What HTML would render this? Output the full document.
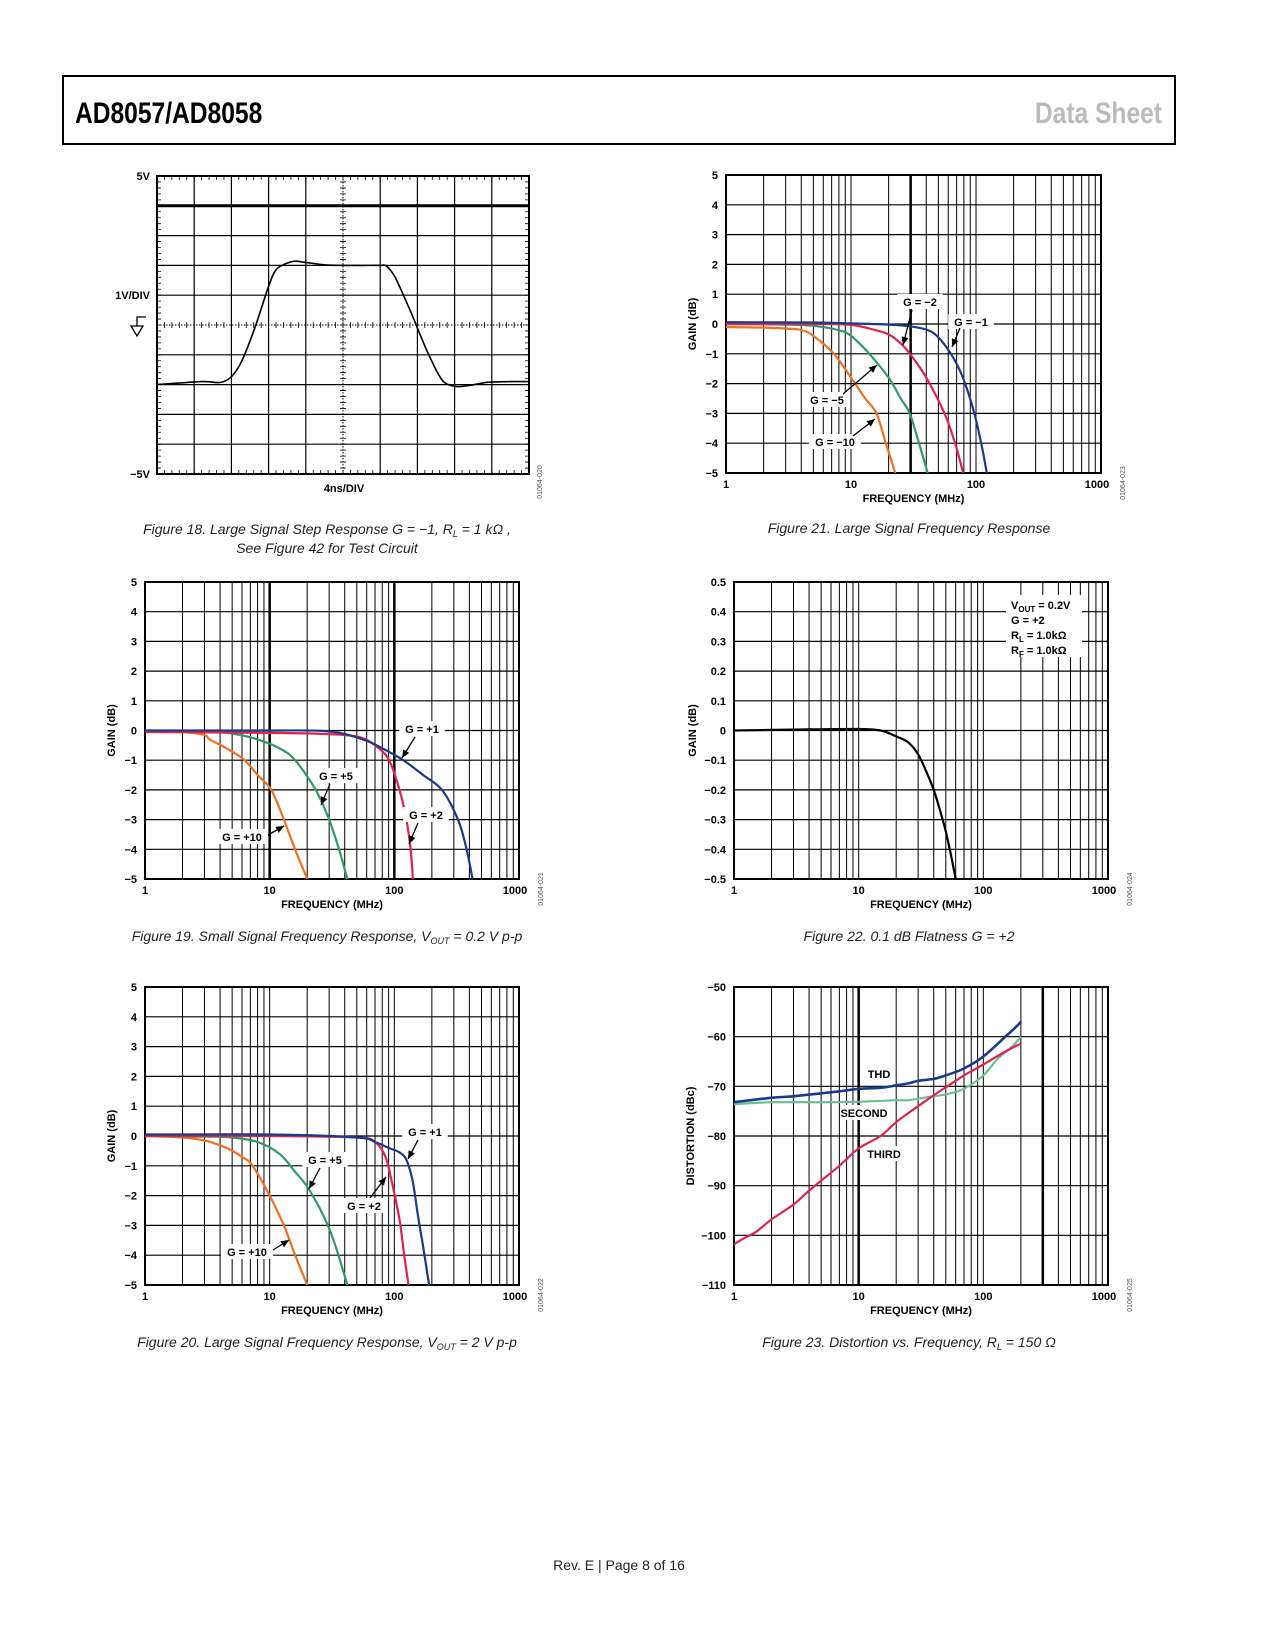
<!DOCTYPE html>
<html><head><meta charset="utf-8"><style>
html,body{margin:0;padding:0;background:#fff;}
svg{display:block;font-family:"Liberation Sans",sans-serif;}
.tk{font-size:11px;font-weight:bold;fill:#000;}
.cap{font-size:14px;font-style:italic;fill:#222;}
</style></head><body>
<svg id="page" width="1275" height="1650" viewBox="0 0 1275 1650">
<rect x="63" y="76" width="1112" height="68" fill="none" stroke="#000" stroke-width="2"/>
<text x="75" y="123" font-size="30" font-weight="bold" transform="translate(75 0) scale(0.82 1) translate(-75 0)">AD8057/AD8058</text>
<text x="1162" y="123" font-size="30" font-weight="bold" fill="#bbb" text-anchor="end" transform="translate(1162 0) scale(0.82 1) translate(-1162 0)">Data Sheet</text>
<text x="619" y="1570" font-size="14" text-anchor="middle" fill="#222">Rev. E | Page 8 of 16</text>
<g id="charts"></g>
</svg>
<script>
// ---------- Figure 18 step response (divisions: x 0..10, volts -5..5)
const stepT = [0,1.2,1.79,2.2,2.6,3.0,3.2,3.45,3.7,4.0,4.5,5.0,5.5,6.0,6.16,6.4,6.8,7.2,7.5,7.7,7.9,8.08,8.4,8.9,9.5,10];
const stepV = [-2.0,-1.9,-1.9,-1.4,-0.2,1.3,1.85,2.05,2.14,2.1,2.02,2.0,2.0,2.0,1.98,1.6,0.5,-0.7,-1.5,-1.9,-2.03,-2.07,-2.03,-1.92,-1.9,-1.9];
// ---------- Figure 21 large signal, inverting
const f21Names = ["G = -1","G = -2","G = -5","G = -10"];
const f21Freq = [
 [1,5,10,20,30,41,50,63,75,85,97,110,122],
 [1,5,10,15.5,20,25,29.6,40,56,68,79],
 [1,3,5,7.9,10,14,20,25,29.5,35,41],
 [1,2,3,4,5,7.3,10,13,16,19,22.6]];
const f21Gain = [
 [0.06,0.05,0.02,-0.02,-0.08,-0.2,-0.45,-1.0,-1.6,-2.2,-3.0,-4.0,-5.0],
 [0.0,0.0,-0.03,-0.2,-0.35,-0.65,-1.0,-1.8,-3.0,-4.0,-5.0],
 [0.0,-0.02,-0.06,-0.2,-0.4,-1.0,-1.8,-2.5,-3.0,-4.0,-5.0],
 [-0.1,-0.12,-0.15,-0.2,-0.4,-1.0,-1.8,-2.5,-3.0,-4.0,-5.0]];
// ---------- Figure 19 small signal
const f19Freq = [
 [1,10,30,56,80,118,170,241,324,380,424],
 [1,10,30,50,62,75,91,110,125,135,141],
 [1,3,5,8,12,16,23.4,30,36,42],
 [1,2,3,3.3,4.5,6.3,8,10.3,13,16,20]];
const f19Gain = [
 [0,0,-0.03,-0.3,-0.6,-1.0,-1.5,-2.0,-3.0,-4.0,-5.0],
 [-0.05,-0.08,-0.12,-0.2,-0.35,-0.6,-1.0,-2.0,-3.0,-4.0,-5.0],
 [0,-0.03,-0.1,-0.3,-0.6,-1.0,-2.0,-3.0,-4.0,-5.0],
 [0,-0.05,-0.15,-0.3,-0.6,-1.0,-1.5,-2.0,-3.0,-4.0,-5.0]];
// ---------- Figure 22 flatness
const f22Freq = [1,3,5,10,15,20,25,30,35,40,45,50,55,60];
const f22Gain = [0.0,0.003,0.004,0.005,0.0,-0.02,-0.04,-0.08,-0.14,-0.2,-0.27,-0.34,-0.42,-0.5];
// ---------- Figure 20 large signal, non-inverting
const f20Freq = [
 [1,10,50,70,90,110,125,140,155,170,190],
 [1,10,50,70,85,95,110,120,130],
 [1,3,5,8,12,16,20,25,30,35,42],
 [1,2,3,4.5,6,7.3,10,13,16,20]];
const f20Gain = [
 [0.05,0.05,-0.05,-0.2,-0.4,-0.55,-0.8,-1.5,-2.7,-3.7,-5.0],
 [0,0,-0.05,-0.2,-0.7,-1.5,-2.8,-4.0,-5.0],
 [0,-0.02,-0.05,-0.2,-0.6,-1.2,-1.7,-2.4,-3.1,-3.9,-5.0],
 [0,-0.05,-0.15,-0.4,-0.7,-1.0,-2.0,-3.0,-4.0,-5.0]];
// ---------- Figure 23 distortion
const thdFreq = [1,2,3,5,7,10,15,20,25,30,40,50,70,100,150,180,200];
const thdVal = [-73.2,-72.3,-72,-71.4,-71,-70.5,-70.3,-69.8,-69.4,-68.9,-68.5,-67.8,-66.4,-64,-60,-58.2,-57];
const secFreq = [1,2,5,10,20,25,35,50,70,100,130,170,200];
const secVal = [-73.6,-73.2,-73.2,-73.1,-72.8,-72.8,-72.2,-71.6,-70.5,-67.8,-64.5,-62,-60];
const thirdFreq = [1,1.2,1.5,2,3,4,5,7,10,15,20,30,40,50,70,100,150,200];
const thirdVal = [-101.8,-100.6,-99.3,-96.8,-93.8,-91,-89,-86,-82.5,-80,-77.2,-74,-71.8,-70.2,-67.8,-65.6,-63,-61.4];

const NS="http://www.w3.org/2000/svg";
const root=document.getElementById('charts');
function mk(tag,attrs,parent,txt){const e=document.createElementNS(NS,tag);for(const k in attrs)e.setAttribute(k,attrs[k]);if(txt!==undefined)e.textContent=txt;(parent||root).appendChild(e);return e;}
function fmt(v){return v<0?'\u2212'+String(-v):String(v);}
function smooth(pts){
  let d='M'+pts[0][0].toFixed(1)+' '+pts[0][1].toFixed(1);
  for(let i=0;i<pts.length-1;i++){
    const p0=pts[Math.max(0,i-1)],p1=pts[i],p2=pts[i+1],p3=pts[Math.min(pts.length-1,i+2)];
    const c1x=p1[0]+(p2[0]-p0[0])/6,c1y=p1[1]+(p2[1]-p0[1])/6;
    const c2x=p2[0]-(p3[0]-p1[0])/6,c2y=p2[1]-(p3[1]-p1[1])/6;
    d+=` C${c1x.toFixed(1)} ${c1y.toFixed(1)} ${c2x.toFixed(1)} ${c2y.toFixed(1)} ${p2[0].toFixed(1)} ${p2[1].toFixed(1)}`;
  }
  return d;
}

function logChart(c){
  const g=mk('g',{});
  
  
  c.xs=f=>c.x0+Math.log10(f)/3*(c.x1-c.x0);
  c.ys=v=>c.y0+(c.ymax-v)/(c.ymax-c.ymin)*(c.y1-c.y0);
  for(let d=0;d<3;d++)for(let m=1;m<=9;m++){const f=Math.pow(10,d)*m;const x=c.xs(f);const thick=(c.thick||[]).includes(f);
    const l=mk('line',{x1:x,x2:x,y1:c.y0,y2:c.y1,stroke:'#000','stroke-width':thick?2.5:1},g);
    
    }
  for(let i=0;i<c.yt.length;i++){const y=c.ys(c.yt[i]);
    const l=mk('line',{x1:c.x0,x2:c.x1,y1:y,y2:y,stroke:'#000','stroke-width':1.2},g);
    
    
    const t=mk('text',{x:c.x0-8,y:y+4,'text-anchor':'end',class:'tk'},g,c.ylab[i]);
    
    }
  const fr=mk('rect',{x:c.x0,y:c.y0,width:c.x1-c.x0,height:c.y1-c.y0,fill:'none',stroke:'#000','stroke-width':2},g);
  
  
  const xl=['1','10','100','1000'];
  for(let i=0;i<4;i++){const t=mk('text',{x:c.xs(Math.pow(10,i))+(i==3?-4:0),y:c.y1+15,'text-anchor':'middle',class:'tk'},g,xl[i]);
    
    }
  const xt=mk('text',{x:(c.x0+c.x1)/2,y:c.y1+29,'text-anchor':'middle',class:'tk','font-size':'12'},g,'FREQUENCY (MHz)');
  
  
  const cy=(c.y0+c.y1)/2, cx=c.x0-c.ytitleOff;
  const yt=mk('text',{x:cx,y:cy,'text-anchor':'middle',class:'tk','font-size':'12',transform:`rotate(-90 ${cx} ${cy})`},g,c.ytitle);
  
  
  const idx=c.x1+24, idy=c.y1+10;
  const id=mk('text',{x:idx,y:idy,'font-size':'7',fill:'#555','text-anchor':'middle',transform:`rotate(-90 ${idx} ${idy})`},g,c.id);
  
  
  const cap=mk('text',{x:c.capx,y:c.capy,'text-anchor':'middle',class:'cap'},root);
  cap.innerHTML=c.cap;
  
  
  return g;
}
function series(c,g,fs,vs,color,name,w){
  const clip=v=>Math.max(c.ymin,Math.min(c.ymax,v));
  const pts=fs.map((f,i)=>[c.xs(f),c.ys(clip(vs[i]))]);
  const p=mk('path',{d:smooth(pts),fill:'none',stroke:color,'stroke-width':w||2.2,'stroke-linejoin':'round'},g);
  
  
}
function label(g,x,y,txt){
  const w=txt.length*6.6+6;
  const r=mk('rect',{x:x-w/2,y:y-8,width:w,height:15,fill:'#fff'},g);
  
  
  const t=mk('text',{x:x,y:y+4,'text-anchor':'middle',class:'tk'},g,txt.replace('-','\u2212'));
  
  
}
function arrow(g,x1,y1,x2,y2){
  const l=mk('line',{x1:x1,y1:y1,x2:x2,y2:y2,stroke:'#000','stroke-width':1.3},g);
  
  
  const a=Math.atan2(y2-y1,x2-x1),L=8,W=3.5;
  const bx=x2-L*Math.cos(a),by=y2-L*Math.sin(a);
  const p=mk('polygon',{points:`${x2},${y2} ${bx-W*Math.sin(a)},${by+W*Math.cos(a)} ${bx+W*Math.sin(a)},${by-W*Math.cos(a)}`,fill:'#000'},g);
  
  
}
const colors=['#1a3a8a','#e0234e','#2e9a6a','#f07020'];
const gainTicks=[5,4,3,2,1,0,-1,-2,-3,-4,-5];
const gainLabs=gainTicks.map(fmt);

// ===== Figure 18 =====
(function(){
  const x0=157,x1=529,y0=176,y1=474;
  const g=mk('g',{});
  
  
  const tx=t=>x0+t/10*(x1-x0), vy=v=>y0+(5-v)/10*(y1-y0);
  for(let i=1;i<10;i++){const x=tx(i),y=y0+i*(y1-y0)/10;
    const a=mk('line',{x1:x,x2:x,y1:y0,y2:y1,stroke:'#000','stroke-width':i==5?1:1.2,'stroke-dasharray':i==5?'1.5 1.5':'none'},g);
    
    
    const b=mk('line',{x1:x0,x2:x1,y1:y,y2:y,stroke:'#000','stroke-width':i==1?3:(i==5?1:1.2),'stroke-dasharray':i==5?'1.5 1.5':'none'},g);
    
    }
  let ticks='';
  for(let i=0;i<=50;i++){const x=x0+i*(x1-x0)/50,y=y0+i*(y1-y0)/50;
    ticks+=`M${x} ${y0}v4M${x} ${y1}v-4M${x} ${(y0+y1)/2-3}v6M${x0} ${y}h4M${x1} ${y}h-4M${(x0+x1)/2-3} ${y}h6`;}
  const tp=mk('path',{d:ticks,stroke:'#000','stroke-width':0.8},g);
  
  
  const fr=mk('rect',{x:x0,y:y0,width:x1-x0,height:y1-y0,fill:'none',stroke:'#000','stroke-width':2},g);
  
  
  const pts=stepT.map((t,i)=>[tx(t),vy(stepV[i])]);
  const p=mk('path',{d:smooth(pts),fill:'none',stroke:'#000','stroke-width':1.6,'stroke-linejoin':'round'},g);
  
  
  const labs=[['5V',y0+4,'top-voltage-label'],['1V/DIV',299,'scale-label'],['\u22125V',y1+4,'bottom-voltage-label']];
  for(const L of labs){const t=mk('text',{x:x0-7,y:L[1],'text-anchor':'end',class:'tk'},g,L[0]);
    
    }
  const gs=mk('path',{d:'M146 317h-9v9M131 326h12l-6 10z',fill:'none',stroke:'#000','stroke-width':1.3},g);
  
  
  const xt=mk('text',{x:344,y:492,'text-anchor':'middle',class:'tk'},g,'4ns/DIV');
  
  
  const id=mk('text',{x:542,y:482,'font-size':'7',fill:'#555','text-anchor':'middle',transform:'rotate(-90 542 482)'},g,'01064-020');
  
  
  const c1=mk('text',{x:327,y:534,'text-anchor':'middle',class:'cap'},root);
  c1.innerHTML='Figure 18. Large Signal Step Response G = \u22121, R<tspan font-size="9" dy="3">L</tspan><tspan dy="-3"> = 1 k\u03a9 ,</tspan>';
  
  
  const c2=mk('text',{x:327,y:553,'text-anchor':'middle',class:'cap'},root,'See Figure 42 for Test Circuit');
  
  
})();

// ===== Figure 21 =====
(function(){
  const c={name:'large-signal-inverting-chart',x0:726,x1:1101,y0:175,y1:473,ymin:-5,ymax:5,yt:gainTicks,ylab:gainLabs,ytitle:'GAIN (dB)',ytitleOff:30,id:'01064-023',thick:[30],capx:909,capy:533,cap:'Figure 21. Large Signal Frequency Response'};
  const g=logChart(c);
  for(let i=3;i>=0;i--)series(c,g,f21Freq[i],f21Gain[i],colors[i],'curve-'+f21Names[i].replace(/[^0-9]/g,'')+'-inverting');
  label(g,920,302,'G = -2');arrow(g,912,310,903,345);
  label(g,971,322,'G = -1');arrow(g,960,328,952,347);
  label(g,827,400,'G = -5');arrow(g,843,394,877,365);
  label(g,835,442,'G = -10');arrow(g,853,436,875,419);
})();

// ===== Figure 19 =====
(function(){
  const c={name:'small-signal-chart',x0:145,x1:519,y0:582,y1:879,ymin:-5,ymax:5,yt:gainTicks,ylab:gainLabs,ytitle:'GAIN (dB)',ytitleOff:30,id:'01064-021',thick:[10,100],capx:327,capy:941,cap:'Figure 19. Small Signal Frequency Response, V<tspan font-size="9" dy="3">OUT</tspan><tspan dy="-3"> = 0.2 V p-p</tspan>'};
  const g=logChart(c);
  const nm=['g1','g2','g5','g10'];
  for(let i=3;i>=0;i--)series(c,g,f19Freq[i],f19Gain[i],colors[i],'curve-'+nm[i]);
  label(g,422,729,'G = +1');arrow(g,415,737,402,758);
  label(g,336,776,'G = +5');arrow(g,330,784,321,805);
  label(g,426,815,'G = +2');arrow(g,418,823,409,844);
  label(g,242,837,'G = +10');arrow(g,268,835,284,826);
})();

// ===== Figure 22 =====
(function(){
  const yt=[0.5,0.4,0.3,0.2,0.1,0,-0.1,-0.2,-0.3,-0.4,-0.5];
  const c={name:'flatness-chart',x0:734,x1:1108,y0:582,y1:879,ymin:-0.5,ymax:0.5,yt:yt,ylab:yt.map(fmt),ytitle:'GAIN (dB)',ytitleOff:38,id:'01064-024',capx:909,capy:941,cap:'Figure 22. 0.1 dB Flatness G = +2'};
  const g=logChart(c);
  series(c,g,f22Freq,f22Gain,'#000','flatness-curve');
  const r=mk('rect',{x:1006,y:595,width:76,height:62,fill:'#fff'},g);
  
  
  const L=[['V','OUT',' = 0.2V',609],['G = +2','','',624],['R','L',' = 1.0k\u03a9',639],['R','F',' = 1.0k\u03a9',654]];
  for(const l of L){const t=mk('text',{x:1011,y:l[3],class:'tk'},g);
    t.innerHTML=l[0]+(l[1]?`<tspan font-size="8" dy="3">${l[1]}</tspan><tspan dy="-3">${l[2]}</tspan>`:'');
    
    }
})();

// ===== Figure 20 =====
(function(){
  const c={name:'large-signal-noninverting-chart',x0:145,x1:519,y0:987,y1:1285,ymin:-5,ymax:5,yt:gainTicks,ylab:gainLabs,ytitle:'GAIN (dB)',ytitleOff:30,id:'01064-022',capx:327,capy:1347,cap:'Figure 20. Large Signal Frequency Response, V<tspan font-size="9" dy="3">OUT</tspan><tspan dy="-3"> = 2 V p-p</tspan>'};
  const g=logChart(c);
  const nm=['g1','g2','g5','g10'];
  for(let i=3;i>=0;i--)series(c,g,f20Freq[i],f20Gain[i],colors[i],'curve-'+nm[i]);
  label(g,425,1132,'G = +1');arrow(g,418,1140,408,1159);
  label(g,325,1160,'G = +5');arrow(g,320,1168,309,1189);
  label(g,364,1206,'G = +2');arrow(g,370,1198,386,1177);
  label(g,247,1252,'G = +10');arrow(g,273,1250,289,1240);
})();

// ===== Figure 23 =====
(function(){
  const yt=[-50,-60,-70,-80,-90,-100,-110];
  const c={name:'distortion-chart',x0:734,x1:1108,y0:987,y1:1285,ymin:-110,ymax:-50,yt:yt,ylab:yt.map(fmt),ytitle:'DISTORTION (dBc)',ytitleOff:40,id:'01064-025',thick:[10,300],capx:909,capy:1347,cap:'Figure 23. Distortion vs. Frequency, R<tspan font-size="9" dy="3">L</tspan><tspan dy="-3"> = 150 \u03a9</tspan>'};
  const g=logChart(c);
  series(c,g,secFreq,secVal,'#6cbf95','second-harmonic-curve');
  series(c,g,thirdFreq,thirdVal,'#e0234e','third-harmonic-curve');
  series(c,g,thdFreq,thdVal,'#1a3a8a','thd-curve',2.6);
  label(g,879,1074,'THD');
  label(g,864,1113,'SECOND');
  label(g,884,1154,'THIRD');
})();
</script>
</body></html>
